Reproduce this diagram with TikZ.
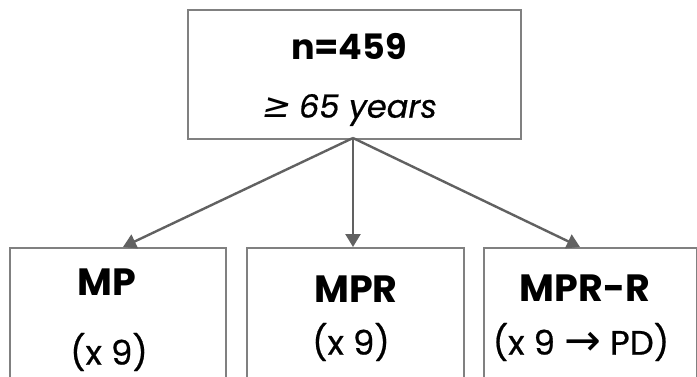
\documentclass[tikz,border=0pt]{standalone}
\usepackage{fontspec}
\setmainfont{Poppins}
\newfontfamily\medfont{Poppins}[FakeBold=0.6]
\newfontfamily\symfont{DejaVu Sans}
\newfontfamily\symslfont{DejaVu Sans}[FakeSlant=0.2]
\usetikzlibrary{arrows.meta}
\begin{document}
\begin{tikzpicture}[x=1pt,y=-1pt,
  box/.style={draw=black!50,line width=1.5pt,fill=white,inner sep=0pt,anchor=north west},
  arr/.style={draw=black!62,line width=2.4pt,-{Triangle[length=13pt,width=15pt]}},
  big/.style={font=\fontsize{38}{40}\selectfont\bfseries,inner sep=0pt},
  sub/.style={font=\fontsize{34}{36}\medfont,inner sep=0pt}
]
\useasboundingbox (0,0) rectangle (697,376);
\clip (0,0) rectangle (697,376);
\fill[white] (0,0) rectangle (697,376);
% boxes
\node[box,minimum width=333pt,minimum height=129pt] (top) at (187,9) {};
\node[box,minimum width=216pt,minimum height=150pt] (left) at (9,247) {};
\node[box,minimum width=217pt,minimum height=150pt] (mid) at (246,247) {};
\node[box,minimum width=213pt,minimum height=150pt] (right) at (483,247) {};
% texts
\node[big,font=\fontsize{35}{36}\selectfont\bfseries] (t1) at (349,46) {n=459};
\node[inner sep=0pt,font=\fontsize{32}{34}\medfont\itshape] (t2) at (349,110) {{\symslfont\fontsize{34}{34}\selectfont ≥} 65 years};
\node[big] (l1) at (107,282) {MP};
\node[sub] (l2) at (109,352) {(x 9)};
\node[big] (m1) at (356,289) {MPR};
\node[sub] (m2) at (351,342) {(x 9)};
\node[big] (r1) at (585,288) {MPR-R};
\node[sub] (r2) at (581,342) {(x 9 \raisebox{-1pt}{\symfont\fontsize{44}{36}\selectfont →} PD)};
% arrows
\coordinate (tipL) at (123,247);
\coordinate (tipM) at (353,247);
\coordinate (tipR) at (580,247);
\coordinate (src) at (353,138);
\draw[arr] (src) -- (tipL);
\draw[arr] (src) -- (tipM);
\draw[arr] (src) -- (tipR);
\end{tikzpicture}
\end{document}
